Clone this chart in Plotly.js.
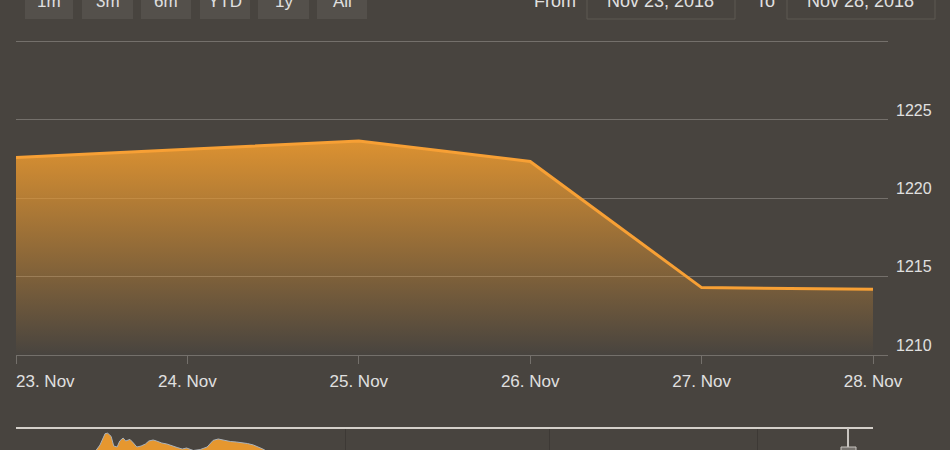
<!DOCTYPE html>
<html>
<head>
<meta charset="utf-8">
<script src="https://cdn.plot.ly/plotly-3.0.1.min.js"></script>
<style>html,body{margin:0;padding:0;background:#48443f;}#chart{width:950px;height:450px;}</style>
</head>
<body>
<div id="chart"></div>
<script>
// ---- data ----
const dates = ['2018-11-23', '2018-11-25', '2018-11-26', '2018-11-27', '2018-11-28'];
const prices = [1222.6, 1223.65, 1222.35, 1214.3, 1214.2];
const tickDates = ['2018-11-23', '2018-11-24', '2018-11-25', '2018-11-26', '2018-11-27', '2018-11-28'];
const tickLabels = ['23. Nov', '24. Nov', '25. Nov', '26. Nov', '27. Nov', '28. Nov'];
const yTicks = [1210, 1215, 1220, 1225, 1230];
const yTickLabels = ['1210', '1215', '1220', '1225', ''];
// navigator (full history, mostly below the visible strip)
const navX = [0, 5, 9.2, 9.8, 10.4, 10.7, 11.1, 11.4, 11.8, 12.1, 12.5, 12.8, 13.3, 13.7, 14.1, 14.6, 15.1, 15.5, 16.0, 16.4, 17.0, 17.6, 18.2, 18.8, 19.4, 19.9, 20.7, 21.5, 22.3, 23.0, 23.6, 24.2, 25.0, 25.7, 26.3, 27.0, 27.7, 28.2, 28.8, 29.4, 40, 60, 80, 96.5];
const navY = [1100, 1120, 1140, 1175, 1232, 1234, 1218, 1170, 1165, 1195, 1210, 1195, 1203, 1185, 1165, 1170, 1180, 1195, 1200, 1195, 1185, 1180, 1170, 1162.5, 1155, 1160, 1147.5, 1152.5, 1165, 1198, 1205, 1198, 1192.5, 1190, 1187.5, 1182.5, 1175, 1167.5, 1155, 1140, 1120, 1110, 1100, 1090];
const buttons = ['1m', '3m', '6m', 'YTD', '1y', 'All'];
const fromLabel = 'From', toLabel = 'To';
const fromDate = 'Nov 23, 2018', toDate = 'Nov 28, 2018';

// ---- layout helpers (pixel -> paper) ----
const L = 16, W = 872, H = 450;
const PX = x => (x - L) / W;
const PY = y => 1 - y / H;

const txt = '#e0e0e0';
const grid = '#74706b';
const bg = '#48443f';
const font = 'Liberation Sans, Arial, sans-serif';

const traces = [
  {
    x: dates, y: prices, type: 'scatter', mode: 'lines',
    line: {color: '#f7a035', width: 3},
    fill: 'tozeroy',
    fillgradient: {type: 'vertical', start: 1210, stop: 1224,
      colorscale: [[0, 'rgba(232,152,48,0)'], [1, 'rgba(232,152,48,0.95)']]},
    hoverinfo: 'skip', xaxis: 'x', yaxis: 'y'
  },
  {
    x: navX, y: navY, type: 'scatter', mode: 'lines',
    line: {color: '#aab2ba', width: 1},
    fill: 'tozeroy', fillcolor: '#e6972f',
    hoverinfo: 'skip', xaxis: 'x2', yaxis: 'y2'
  }
];

const btnPos = [[25, 73], [82, 133], [141, 191], [200, 250], [258, 309], [317, 367]];
const shapes = [];
const annotations = [];
btnPos.forEach((p, i) => {
  shapes.push({type: 'rect', xref: 'paper', yref: 'paper', x0: PX(p[0]), x1: PX(p[1]), y0: PY(19), y1: PY(-12),
    fillcolor: '#54504b', line: {width: 0}, layer: 'above'});
  annotations.push({xref: 'paper', yref: 'paper', x: PX((p[0] + p[1]) / 2), y: PY(1), xanchor: 'center', yanchor: 'middle',
    text: buttons[i], showarrow: false, font: {family: font, size: 17, color: txt}});
});
[[587, 735], [787, 935]].forEach(p => {
  shapes.push({type: 'rect', xref: 'paper', yref: 'paper', x0: PX(p[0]), x1: PX(p[1]), y0: PY(19), y1: PY(-12),
    fillcolor: 'rgba(0,0,0,0)', line: {width: 1, color: '#5c5853'}, layer: 'above'});
});
annotations.push({xref: 'paper', yref: 'paper', x: PX(555), y: PY(1), xanchor: 'center', yanchor: 'middle', text: fromLabel, showarrow: false, font: {family: font, size: 18, color: txt}});
annotations.push({xref: 'paper', yref: 'paper', x: PX(765), y: PY(1), xanchor: 'center', yanchor: 'middle', text: toLabel, showarrow: false, font: {family: font, size: 18, color: txt}});
annotations.push({xref: 'paper', yref: 'paper', x: PX(660), y: PY(1), xanchor: 'center', yanchor: 'middle', text: fromDate, showarrow: false, font: {family: font, size: 18, color: txt}});
annotations.push({xref: 'paper', yref: 'paper', x: PX(860), y: PY(1), xanchor: 'center', yanchor: 'middle', text: toDate, showarrow: false, font: {family: font, size: 18, color: txt}});
// first x label, left-aligned like the original
annotations.push({xref: 'paper', yref: 'paper', x: PX(14), y: PY(381), xanchor: 'left', yanchor: 'middle', text: tickLabels[0], showarrow: false, font: {family: font, size: 17, color: txt}});

// navigator outline and handle
shapes.push({type: 'line', xref: 'paper', yref: 'paper', x0: PX(16), x1: PX(873), y0: PY(428), y1: PY(428), line: {color: '#d4d0ca', width: 2}, layer: 'above'});
shapes.push({type: 'line', xref: 'paper', yref: 'paper', x0: PX(848), x1: PX(848), y0: PY(428), y1: PY(447), line: {color: '#c8c4bf', width: 2}, layer: 'above'});
shapes.push({type: 'rect', xref: 'paper', yref: 'paper', x0: PX(841), x1: PX(856), y0: PY(460), y1: PY(447), fillcolor: '#77736e', line: {color: '#c8c4bf', width: 1}, layer: 'above'});

const layout = {
  width: 950, height: 450,
  paper_bgcolor: bg, plot_bgcolor: bg,
  margin: {l: L, r: 950 - L - W, t: 0, b: 0},
  showlegend: false,
  font: {family: font, color: txt},
  xaxis: {
    type: 'date', domain: [0, 1], anchor: 'y',
    range: ['2018-11-23 00:00', '2018-11-28 02:06'],
    tickmode: 'array', tickvals: tickDates, ticktext: [''].concat(tickLabels.slice(1)),
    ticks: 'outside', ticklen: 8, tickwidth: 1, tickcolor: grid, ticklabelstandoff: 3,
    showgrid: false, zeroline: false, showline: true, linecolor: grid, linewidth: 1,
    tickfont: {family: font, size: 17, color: txt}, fixedrange: true
  },
  yaxis: {
    domain: [PY(355), PY(40)], anchor: 'x', side: 'right',
    range: [1210, 1230.1],
    tickmode: 'array', tickvals: yTicks, ticktext: yTickLabels,
    showgrid: true, gridcolor: grid, gridwidth: 1, zeroline: false, showline: false,
    ticks: '', ticklabelstandoff: 7, ticklabelshift: -10,
    tickfont: {family: font, size: 16, color: txt}, fixedrange: true
  },
  xaxis2: {
    domain: [0, PX(873)], anchor: 'y2', range: [0, 100],
    tickmode: 'array', tickvals: [38.5, 62.3, 86.5],
    showgrid: true, gridcolor: '#3d3935', gridwidth: 1,
    showticklabels: false, ticks: '', zeroline: false, showline: false, fixedrange: true
  },
  yaxis2: {
    domain: [0, PY(428)], anchor: 'x2', range: [1150, 1260],
    showgrid: false, showticklabels: false, ticks: '', zeroline: false, showline: false, fixedrange: true
  },
  shapes: shapes,
  annotations: annotations
};

Plotly.newPlot('chart', traces, layout, {displayModeBar: false, staticPlot: true});
</script>
</body>
</html>
